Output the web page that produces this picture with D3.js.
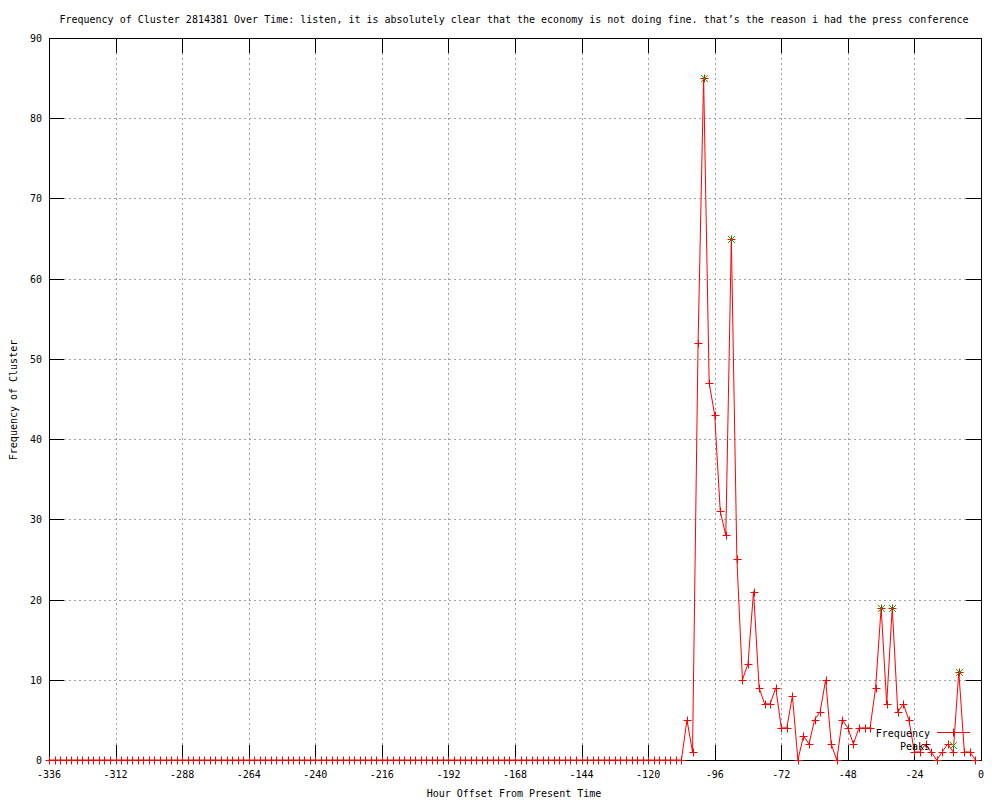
<!DOCTYPE html>
<html>
<head>
<meta charset="utf-8">
<script src="https://cdn.jsdelivr.net/npm/d3@7"></script>
<style>
  body { margin: 0; background: #fff; }
  text { font-family: "DejaVu Sans Mono", monospace; font-size: 10px; fill: #000; }
</style>
</head>
<body>
<svg id="chart" width="1000" height="800"></svg>
<script>
// hour offsets, every 2 hours from -336 to -2
var hours = d3.range(-336, 0, 2);

// frequency per 2-hour bin
var freq = [
  0,0,0,0,0,0,0,0,0,0, 0,0,0,0,0,0,0,0,0,0,
  0,0,0,0,0,0,0,0,0,0, 0,0,0,0,0,0,0,0,0,0,
  0,0,0,0,0,0,0,0,0,0, 0,0,0,0,0,0,0,0,0,0,
  0,0,0,0,0,0,0,0,0,0, 0,0,0,0,0,0,0,0,0,0,
  0,0,0,0,0,0,0,0,0,0, 0,0,0,0,0,0,0,0,0,0,
  0,0,0,0,0,0,0,0,0,0, 0,0,0,0,0,
  5,1,52,85,47,43,31,28,65,25,
  10,12,21,9,7,7,9,4,4,8,
  0,3,2,5,6,10,2,0,5,4,
  2,4,4,4,9,19,7,19,6,7,
  5,1,1,2,1,0,1,2,1,11,
  1,1,0
];

var peakHours = [-100, -90, -36, -32, -8];
var peakValues = [85, 65, 19, 19, 11];

var xTicks = [-336,-312,-288,-264,-240,-216,-192,-168,-144,-120,-96,-72,-48,-24,0];
var yTicks = [0,10,20,30,40,50,60,70,80,90];

var title = "Frequency of Cluster 2814381 Over Time: listen, it is absolutely clear that the economy is not doing fine. that\u2019s the reason i had the press conference";

var svg = d3.select("#chart"),
    pLeft = 49, pRight = 981, pTop = 38, pBottom = 760;

var x = d3.scaleLinear().domain([-336, 0]).range([pLeft, pRight]);
var y = d3.scaleLinear().domain([0, 90]).range([pBottom, pTop]);

// grid
var grid = svg.append("g").attr("stroke", "#a0a0a0").attr("stroke-dasharray", "2,3").attr("shape-rendering", "crispEdges");
grid.selectAll(".gx").data(xTicks.slice(1, -1)).enter().append("line")
  .attr("x1", function (d) { return Math.round(x(d)) + 0.5; })
  .attr("x2", function (d) { return Math.round(x(d)) + 0.5; })
  .attr("y1", pTop).attr("y2", pBottom);
grid.selectAll(".gy").data(yTicks.slice(1, -1)).enter().append("line")
  .attr("y1", function (d) { return Math.round(y(d)) + 0.5; })
  .attr("y2", function (d) { return Math.round(y(d)) + 0.5; })
  .attr("x1", pLeft).attr("x2", pRight);

// axes (ticks inward, mirrored)
var tl = 15;
var ax = svg.append("g").attr("stroke", "#000").attr("shape-rendering", "crispEdges");
xTicks.forEach(function (d) {
  var px = Math.round(x(d)) + 0.5;
  ax.append("line").attr("x1", px).attr("x2", px).attr("y1", pBottom).attr("y2", pBottom - tl);
  ax.append("line").attr("x1", px).attr("x2", px).attr("y1", pTop).attr("y2", pTop + tl);
});
yTicks.forEach(function (d) {
  var py = Math.round(y(d)) + 0.5;
  ax.append("line").attr("x1", pLeft).attr("x2", pLeft + tl).attr("y1", py).attr("y2", py);
  ax.append("line").attr("x1", pRight).attr("x2", pRight - tl).attr("y1", py).attr("y2", py);
});
ax.append("rect").attr("x", pLeft + 0.5).attr("y", pTop + 0.5)
  .attr("width", pRight - pLeft).attr("height", pBottom - pTop).attr("fill", "none");

svg.selectAll(".xl").data(xTicks).enter().append("text")
  .attr("x", function (d) { return x(d); }).attr("y", 778)
  .attr("text-anchor", "middle").text(function (d) { return d; });
svg.selectAll(".yl").data(yTicks).enter().append("text")
  .attr("x", 42).attr("y", function (d) { return y(d) + 4; })
  .attr("text-anchor", "end").text(function (d) { return d; });

svg.append("text").attr("x", 514).attr("y", 23).attr("text-anchor", "middle").text(title);
svg.append("text").attr("x", 514).attr("y", 797).attr("text-anchor", "middle").text("Hour Offset From Present Time");
svg.append("text").attr("transform", "translate(17,400) rotate(-90)").attr("text-anchor", "middle").text("Frequency of Cluster");

// frequency line
var line = d3.line().x(function (d, i) { return x(hours[i]); }).y(function (d) { return y(d); });
svg.append("path").datum(freq).attr("d", line).attr("fill", "none").attr("stroke", "#ff0000").attr("stroke-width", 1);

function plus(g, cx, cy) {
  g.append("path").attr("d", "M" + (cx - 4) + "," + cy + "H" + (cx + 4) + "M" + cx + "," + (cy - 4) + "V" + (cy + 4))
    .attr("stroke", "#ff0000").attr("fill", "none");
}
function cross(g, cx, cy) {
  g.append("path").attr("d", "M" + (cx - 3.5) + "," + (cy - 3.5) + "L" + (cx + 3.5) + "," + (cy + 3.5) +
    "M" + (cx - 3.5) + "," + (cy + 3.5) + "L" + (cx + 3.5) + "," + (cy - 3.5))
    .attr("stroke", "#00c000").attr("fill", "none");
}

var pts = svg.append("g");
freq.forEach(function (d, i) { plus(pts, Math.round(x(hours[i])) + 0.5, Math.round(y(d)) + 0.5); });

var pk = svg.append("g");
peakValues.forEach(function (d, i) { cross(pk, Math.round(x(peakHours[i])) + 0.5, Math.round(y(d)) + 0.5); });

// legend
svg.append("text").attr("x", 930).attr("y", 737).attr("text-anchor", "end").text("Frequency");
svg.append("line").attr("x1", 937).attr("x2", 970).attr("y1", 732.5).attr("y2", 732.5).attr("stroke", "#ff0000");
plus(svg, 953.5, 732.5);
svg.append("text").attr("x", 930).attr("y", 750).attr("text-anchor", "end").text("Peaks");
cross(svg, 953.5, 745.5);
</script>
</body>
</html>
